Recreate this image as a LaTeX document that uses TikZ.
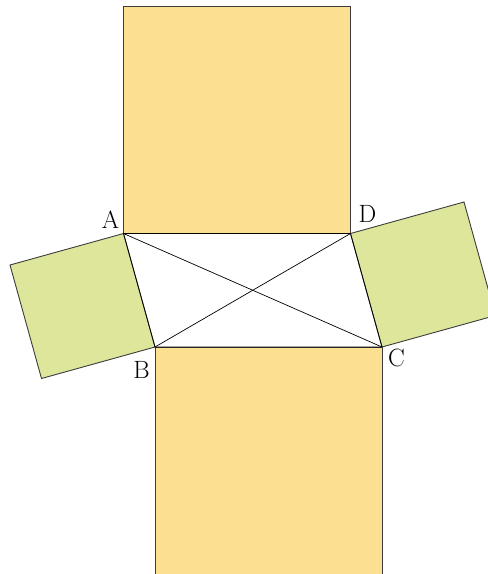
\documentclass[tikz,border=0pt]{standalone}
\usetikzlibrary{calc}
\definecolor{sqorange}{RGB}{253,223,145}
\definecolor{sqgreen}{RGB}{221,230,155}
\definecolor{edgegray}{RGB}{60,60,60}
\begin{document}
\begin{tikzpicture}[x=1pt,y=-1pt,
  sqbox/.style={draw=edgegray,line width=0.9pt,line join=miter},
  thinline/.style={draw=black,line width=0.7pt},
  ptlabel/.style={font=\fontsize{25}{25}\selectfont,inner sep=0pt}]
\useasboundingbox (0,0) rectangle (488,574);
\clip (0,0) rectangle (488,574);
\coordinate (A) at (123.5,233.5);
\coordinate (D) at (350.5,233.5);
\coordinate (B) at (155,347);
\coordinate (C) at (382,347);
% squares on AD and BC
\path[sqbox,fill=sqorange] (A) -- ($(A)+(0,-227)$) -- ($(D)+(0,-227)$) -- (D) -- cycle;
\path[sqbox,fill=sqorange] (B) -- (C) -- ($(C)+(0,227)$) -- ($(B)+(0,227)$) -- cycle;
% squares on AB and DC
\path[sqbox,fill=sqgreen] (A) -- (B) -- ($(B)!1!90:(A)$) -- ($(A)!1!-90:(B)$) -- cycle;
\path[sqbox,fill=sqgreen] (D) -- (C) -- ($(C)!1!-90:(D)$) -- ($(D)!1!90:(C)$) -- cycle;
% parallelogram and diagonals
\draw[thinline] (A) -- (D) -- (C) -- (B) -- cycle;
\draw[thinline] (A) -- (C);
\draw[thinline] (B) -- (D);
% labels
\node[ptlabel] (lA) at (110.5,220) {A};
\node[ptlabel] (lD) at (367.5,214) {D};
\node[ptlabel] (lB) at (141.5,369.5) {B};
\node[ptlabel] (lC) at (396.5,357.5) {C};
\end{tikzpicture}
\end{document}
